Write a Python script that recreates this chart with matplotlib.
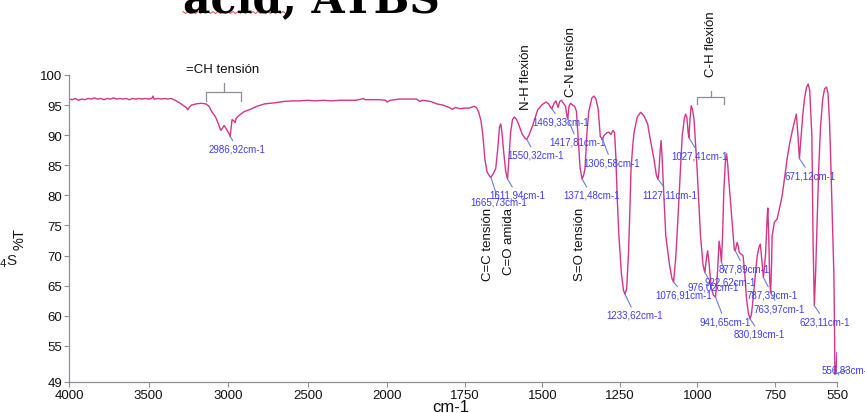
import numpy as np
import matplotlib
matplotlib.use("Agg")
import matplotlib.pyplot as plt
from matplotlib.lines import Line2D

plt.rcParams['font.family'] = ['Liberation Sans', 'DejaVu Sans']

# espectro IR (cm-1, %T)
wavenumber = [
    4000, 3980, 3960, 3940, 3920, 3900, 3880, 3860, 3840, 3820, 3800, 3780,
    3760, 3740, 3720, 3700, 3680, 3660, 3640, 3620, 3600, 3580, 3560, 3540,
    3520, 3500, 3480, 3472, 3465, 3440, 3420, 3400, 3380, 3360, 3340, 3320,
    3300, 3280, 3262, 3253, 3245, 3230, 3200, 3170, 3140, 3120, 3100, 3085,
    3075, 3060, 3046, 3035, 3025, 3010, 2995, 2986.92, 2980, 2975, 2965, 2956,
    2950, 2935, 2900, 2860, 2820, 2770, 2700, 2650, 2600, 2550, 2500, 2450,
    2400, 2350, 2300, 2250, 2200, 2160, 2150, 2140, 2100, 2050, 2010, 2000,
    1990, 1960, 1940, 1920, 1905, 1895, 1885, 1860, 1840, 1820, 1800, 1790,
    1780, 1765, 1750, 1735, 1720, 1712, 1705, 1698, 1692, 1685, 1678, 1670,
    1665.73, 1658, 1650, 1644, 1638, 1634, 1630, 1625, 1618, 1611.94, 1607,
    1602, 1596, 1590, 1584, 1577, 1565, 1556, 1550.32, 1543, 1531, 1515, 1500,
    1488, 1480, 1473, 1469.33, 1462, 1456, 1449, 1444, 1438, 1432, 1425, 1420,
    1417.81, 1414, 1409, 1402, 1396, 1390, 1385, 1378, 1371.48, 1366, 1362,
    1356, 1350, 1340, 1333, 1327, 1320, 1313, 1306.58, 1300, 1292, 1285, 1279,
    1272, 1267, 1263, 1258, 1253, 1245, 1238, 1233.62, 1228, 1222, 1218, 1214,
    1208, 1204, 1194, 1183, 1172, 1160, 1156, 1148, 1140, 1132, 1127.11, 1124,
    1120, 1117, 1114, 1110, 1102, 1090, 1082, 1076.91, 1070, 1065, 1060, 1054,
    1049, 1042, 1038, 1034, 1030, 1027.41, 1024, 1020, 1016, 1011, 1001, 990,
    982, 976.02, 971, 967, 963, 955, 948, 941.65, 936, 930, 926, 922.62, 919,
    915, 910, 906, 902, 899, 892, 888, 881, 877.89, 872, 868, 865, 853, 848,
    842, 836, 830.19, 826, 820, 813, 807, 801, 797, 792, 787.39, 783, 780, 775,
    773, 770, 767, 763.97, 761, 759, 752, 743, 735, 727, 720, 711, 703, 695,
    687, 681, 676, 671.12, 667, 660, 655, 648, 643, 638, 634, 631, 627, 623.11,
    619, 614, 609, 603, 596, 590, 584, 579, 574, 571, 566, 560, 558, 556.83,
    553, 550,
]
transmittance = [
    96.0, 95.9, 96.1, 95.8, 96.0, 95.9, 96.1, 96.0, 96.2, 96.0, 96.1, 95.9,
    96.1, 96.0, 96.2, 96.0, 96.1, 96.0, 96.1, 95.9, 96.1, 96.0, 96.1, 96.0,
    96.1, 96.0, 96.1, 96.5, 96.0, 96.1, 96.0, 96.1, 96.0, 96.1, 95.9, 95.6,
    95.3, 94.9, 94.6, 94.2, 94.6, 95.0, 95.2, 95.3, 95.2, 94.8, 93.8, 93.3,
    92.8, 91.8, 90.8, 91.2, 91.6, 91.0, 90.3, 89.8, 91.5, 92.6, 92.4, 92.1,
    92.8, 93.2, 93.9, 94.3, 94.8, 95.2, 95.4, 95.6, 95.7, 95.7, 95.8, 95.7,
    95.8, 95.7, 95.8, 95.8, 95.8, 96.0, 96.1, 95.9, 95.9, 95.9, 95.8, 95.5,
    95.8, 96.0, 96.0, 96.0, 96.0, 95.6, 95.8, 95.6, 95.2, 95.0, 94.6, 94.3,
    94.6, 94.4, 94.5, 94.5, 94.8, 94.6, 93.8, 92.5, 90.2, 86.0, 83.9, 83.2,
    83.0, 83.6, 84.5, 87.5, 91.3, 91.9, 90.5, 87.5, 84.0, 82.7, 86.5,
    90.5, 92.6, 93.0, 92.7, 91.9, 90.2, 89.5, 89.3, 90.0, 91.6, 94.2, 95.1,
    95.5, 95.2, 94.6, 94.4, 95.3, 95.7, 94.6, 95.6, 95.8, 95.3, 94.8, 93.0,
    92.7, 94.8, 95.3, 95.0, 94.8, 94.0, 90.0, 84.5, 82.7, 83.5, 84.6,
    90.5, 94.0, 96.2, 96.5, 96.0, 94.4, 89.8, 89.4, 90.0, 90.4, 90.5, 90.1,
    90.8, 90.4, 86.6, 79.0, 73.3, 67.0, 64.2, 63.6, 64.5, 70.5, 77.0, 84.4,
    88.5, 90.5, 93.0, 93.8, 93.2, 91.8, 90.5, 88.3, 86.0, 83.3, 82.7, 84.0,
    87.5, 89.1, 86.5, 82.0, 73.3, 68.5, 66.2, 65.6, 69.5, 74.0, 78.9, 85.0,
    89.9, 92.8, 93.5, 93.0, 90.5, 89.6, 92.5, 94.9, 94.3, 92.7, 84.4, 73.3,
    68.5, 67.2, 69.5, 70.8, 69.0, 64.5, 63.4, 63.1, 66.5, 72.4, 71.0, 68.9, 73.0,
    80.4, 85.5, 86.9, 85.0, 82.7, 78.0, 75.5, 71.0, 70.8, 72.2, 71.5, 70.5, 70.0, 67.5,
    63.0, 60.5, 59.5, 60.2, 63.0, 67.0, 70.0, 71.5, 71.9, 69.0, 66.4, 68.5, 70.5, 76.5,
    77.9, 73.0, 66.0, 63.9, 68.5, 73.3, 75.5, 76.1, 77.9, 79.9, 82.5, 86.0, 88.5, 90.5,
    92.3, 93.5, 90.0, 86.1, 89.0, 93.5, 96.0, 98.0, 98.5, 97.5, 93.0, 89.9, 72.0, 61.7,
    67.0, 76.0, 84.4, 91.5, 96.0, 97.7, 98.0, 97.0, 92.0, 87.2, 78.0, 66.8, 58.0, 50.3,
    51.0, 53.9,
]

# picos marcados y desplazamiento de la etiqueta (pt)
peak_wn = [2986.92, 1665.73, 1611.94, 1550.32, 1469.33, 1417.81, 1371.48,
           1306.58, 1233.62, 1127.11, 1076.91, 1027.41, 976.02, 941.65,
           922.62, 877.89, 830.19, 787.39, 763.97, 671.12, 623.11, 556.83]
peak_offset = [(7, -12), (8, -24.4), (9.4, -15.7), (8.7, -15.3), (8.6, -12.7),
               (9.6, -22.7), (9, -15.7), (9, -23.3), (10, -20.7), (11.9, -15.7),
               (10.5, -12.4), (10.6, -17.7), (8.2, -14.4), (9.3, -24), (8.4, -19),
               (8.9, -17.3), (9.6, -15), (8.8, -17.4), (8.6, -15.7), (11, -16.4),
               (10.4, -15.6), (12.5, 4.3)]

# asignaciones de bandas
band_text = ["N-H flexión", "C-N tensión", "C-H flexión",
             "C=C tensión", "C=O amida", "S=O tensión"]
band_wn = [1553, 1408, 955, 1676, 1607, 1377]
band_t = [94.35, 96.5, 99.8, 78.1, 78.1, 78.1]
band_va = ["bottom", "bottom", "bottom", "top", "top", "top"]

# llaves: (inicio, fin, y base, y llave, y pico)
braces = [(3139, 2918, 95.7, 97.2, 98.7), (1000, 915, 95.2, 96.3, 97.3)]

tick_wn = [4000, 3500, 3000, 2500, 2000, 1750, 1500, 1250, 1000, 750, 550]
tick_t = [49, 55, 60, 65, 70, 75, 80, 85, 90, 95, 100]

K = 1.95  # compresion de la zona > 2000 cm-1


def fwd(x):
    x = np.asarray(x, dtype=float)
    return np.where(x > 2000, 2000 + (x - 2000) / K, x)


def inv(u):
    u = np.asarray(u, dtype=float)
    return np.where(u > 2000, 2000 + (u - 2000) * K, u)


fig = plt.figure(figsize=(8.65, 4.14), dpi=100)
ax = fig.add_axes([69 / 865, 31 / 414, 768 / 865, 307 / 414])
ax.set_xscale('function', functions=(fwd, inv))
ax.set_xlim(4000, 550)
ax.set_ylim(49, 100)

line_col = '#d3358b'
grey = '#8a8f99'
ax.plot(wavenumber, transmittance, color=line_col, lw=1.0)

for s in ['top', 'right']:
    ax.spines[s].set_visible(False)
for s in ['left', 'bottom']:
    ax.spines[s].set_color(grey)
    ax.spines[s].set_linewidth(0.9)
ax.set_xticks(tick_wn)
ax.set_xticklabels([str(t) for t in tick_wn])
ax.set_yticks(tick_t)
ax.tick_params(colors=grey, labelcolor='#111111', labelsize=9.5,
               length=3.5, width=0.8, direction='out', pad=1.5)
ax.xaxis.set_minor_locator(plt.NullLocator())

for wn, (dx, dy) in zip(peak_wn, peak_offset):
    t = transmittance[wavenumber.index(wn)]
    label = f"{wn:.2f}".replace('.', ',') + "cm-1"
    ax.annotate(label, xy=(wn, t), xytext=(dx * 0.72, dy * 0.72),
                textcoords='offset points', ha='center', va='center',
                fontsize=7, color='#3c3cf5', annotation_clip=False,
                arrowprops=dict(arrowstyle='-', color='#6a7ce0', lw=0.8,
                                shrinkA=0, shrinkB=0))

for txt, wn, t, va in zip(band_text, band_wn, band_t, band_va):
    ax.text(wn, t, txt, rotation=90, ha='center', va=va, fontsize=9.5,
            color='#111111', clip_on=False)

ax.text(3032, 101.0, "=CH tensión", ha='center', va='center', fontsize=9.5,
        color='#111111', clip_on=False)

for x0, x1, yb, yl, yp in braces:
    xm = inv((fwd(x0) + fwd(x1)) / 2)
    ax.plot([x0, x0, x1, x1], [yb, yl, yl, yb], color=grey, lw=0.9,
            clip_on=False)
    ax.plot([xm, xm], [yl, yp], color=grey, lw=0.9, clip_on=False)

fig.text(19 / 865, 1 - 239 / 414, "%T", rotation=90, ha='center',
         va='center', fontsize=10.5, color='#111111')
fig.text(451 / 865, 1 - 408 / 414, "cm-1", ha='center', va='center',
         fontsize=12, color='#111111')
fig.text(18 / 865, 1 - 262 / 414, r"O$_4$S", ha='right', va='center',
         fontsize=11, color='#222222')

# titulo recortado en el borde superior
fig.text(183 / 865, 1 - 12 / 414, "acid, ATBS", ha='left', va='baseline',
         fontsize=30.5, fontweight='bold', family='DejaVu Serif',
         color='black')
sx = np.arange(183, 286, 2.5)
sy = 13.5 + np.where(np.arange(len(sx)) % 2 == 0, -1.0, 1.0)
fig.add_artist(Line2D(sx / 865, 1 - sy / 414, color='#e05050', lw=0.7,
                      transform=fig.transFigure))

fig.savefig("out.png", dpi=100)
